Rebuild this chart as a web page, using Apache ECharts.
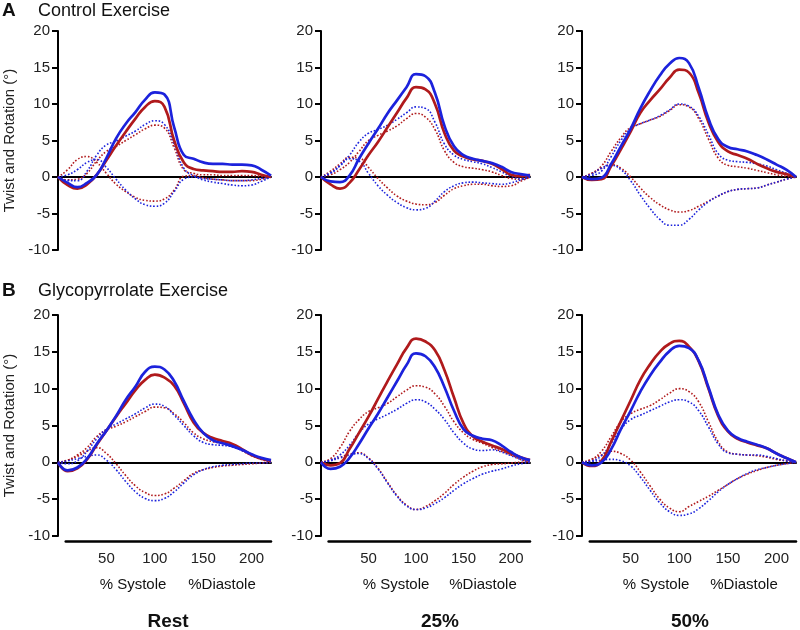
<!DOCTYPE html>
<html>
<head>
<meta charset="utf-8">
<script src="https://cdn.jsdelivr.net/npm/echarts@6/dist/echarts.min.js"></script>
<style>
html,body{margin:0;padding:0;background:#fff;}
#chart{width:800px;height:630px;}
</style>
</head>
<body>
<div id="chart"></div>
<script>
// ---------- DATA ----------
const xPct = [0,10,20,30,40,50,60,70,80,90,100,110,120,130,140,150,160,170,180,190,200,210,220];
const yTicks = [-10,-5,0,5,10,15,20];
const xTickLabels = [50,100,150,200];
const rowTitles = ['Control Exercise','Glycopyrrolate Exercise'];
const rowLetters = ['A','B'];
const colTitles = ['Rest','25%','50%'];
const yAxisTitle = 'Twist and Rotation (°)';
const xTitleSys = '% Systole';
const xTitleDia = '%Diastole';

// Control Exercise - Rest
const ctrlRest_twistRed  = [0,-1.1,-1.6,-1.0,0.3,2.3,4.3,6.2,8.0,9.6,10.4,9.6,5.0,2.0,1.1,0.9,0.8,0.7,0.7,0.8,0.7,0.3,0];
const ctrlRest_twistBlue = [0,-0.8,-1.4,-0.8,0.3,2.6,5.3,7.3,8.9,10.6,11.6,11.3,6.8,3.0,2.5,2.0,1.8,1.8,1.7,1.7,1.6,1.0,0.2];
const ctrlRest_apexRed   = [0,-0.4,-0.3,0.5,2.2,3.5,4.2,5.0,5.8,6.6,7.1,6.7,4.0,1.0,0.5,0.3,0.3,0.2,0.2,0.2,0.2,0.1,0];
const ctrlRest_apexBlue  = [0,-0.5,-0.5,0.8,3.0,4.4,4.9,5.6,6.3,7.2,7.7,7.2,4.5,1.2,0.2,-0.2,-0.3,-0.4,-0.5,-0.5,-0.4,-0.2,0];
const ctrlRest_baseRed   = [0,1.0,2.4,2.8,2.0,0.5,-1.0,-2.0,-2.8,-3.2,-3.3,-3.0,-1.8,0.1,0.2,-0.1,-0.3,-0.4,-0.5,-0.5,-0.5,-0.3,0];
const ctrlRest_baseBlue  = [0,0.3,1.0,2.0,2.4,1.3,-0.3,-1.8,-3.0,-3.8,-4.0,-3.6,-2.0,-0.3,0,-0.4,-0.7,-0.9,-1.1,-1.2,-1.1,-0.6,0];

// Control Exercise - 25%
const ctrl25_twistRed  = [0,-1.0,-1.6,-0.8,1.0,3.0,4.8,6.8,8.8,10.8,12.3,12.0,10.0,6.0,3.6,2.8,2.4,2.2,1.8,1.1,0.3,0.1,0.3];
const ctrl25_twistBlue = [0,-0.6,-0.7,0.2,2.5,4.6,6.6,8.7,10.5,12.3,14.1,13.8,11.5,7.0,4.2,3.0,2.5,2.2,1.9,1.4,0.7,0.4,0.2];
const ctrl25_apexRed   = [0,0.3,1.0,2.0,3.5,5.0,5.7,6.3,7.0,8.0,8.7,8.2,6.5,3.6,2.0,1.4,1.2,1.0,0.7,0.2,-0.2,-0.3,0];
const ctrl25_apexBlue  = [0,0.6,1.6,3.0,4.8,6.0,6.5,7.1,7.9,8.8,9.6,9.4,7.5,4.5,3.0,2.4,2.1,1.8,1.3,0.7,0.1,-0.2,0];
const ctrl25_baseRed   = [0,0.8,1.8,2.7,2.6,1.3,-0.2,-1.5,-2.6,-3.3,-3.7,-3.8,-3.5,-2.5,-1.6,-1.2,-1.0,-1.0,-1.2,-1.3,-1.2,-0.6,0];
const ctrl25_baseBlue  = [0,0.5,1.5,2.5,2.2,0.5,-1.2,-2.5,-3.5,-4.2,-4.5,-4.3,-3.3,-2.0,-1.2,-0.8,-0.7,-0.8,-0.9,-1.0,-0.8,-0.4,0];

// Control Exercise - 50%
const ctrl50_twistRed  = [0,-0.4,-0.3,1.5,3.8,6.2,8.8,10.5,12.0,13.6,14.7,14.3,11.5,7.5,4.8,3.5,3.0,2.5,1.8,1.2,0.7,0.4,0];
const ctrl50_twistBlue = [0,-0.3,-0.1,1.8,4.2,6.6,9.4,11.8,13.9,15.5,16.3,15.6,12.2,8.0,5.2,4.1,3.8,3.5,3.0,2.4,1.7,1.0,0];
const ctrl50_apexRed   = [0,0.5,1.5,3.5,5.4,6.8,7.3,7.8,8.3,9.1,9.9,9.6,8.0,5.2,2.6,1.6,1.4,1.2,0.9,0.6,0.3,0.1,0];
const ctrl50_apexBlue  = [0,0.2,0.8,2.8,5.0,6.6,7.3,7.8,8.4,9.2,10.0,9.7,8.3,5.8,3.2,2.3,2.1,2.0,1.8,1.5,1.0,0.5,0];
const ctrl50_baseRed   = [0,0.5,1.2,1.7,1.2,0,-1.5,-2.8,-3.8,-4.5,-4.8,-4.6,-4.0,-3.3,-2.6,-2.0,-1.7,-1.6,-1.5,-1.1,-0.7,-0.3,0];
const ctrl50_baseBlue  = [0,0.4,1.2,1.6,1.0,-0.5,-2.5,-4.3,-5.8,-6.6,-6.6,-5.8,-4.5,-3.4,-2.6,-2.0,-1.7,-1.6,-1.5,-1.1,-0.7,-0.3,0];

// Glycopyrrolate Exercise - Rest
const glyRest_twistRed  = [0,-1.2,-0.8,0.4,2.4,4.3,6.2,8.0,9.8,11.2,11.9,11.5,10.4,8.0,5.4,4.0,3.3,2.9,2.5,1.8,1.0,0.5,0.2];
const glyRest_twistBlue = [0,-1.1,-0.7,0.5,2.5,4.3,6.3,8.5,10.3,12.3,13.0,12.6,11.0,8.3,5.8,4.0,3.0,2.6,2.2,1.7,1.1,0.6,0.3];
const glyRest_apexRed   = [0,0.3,1.0,2.0,3.5,4.4,4.9,5.5,6.2,6.9,7.5,7.4,6.6,5.4,4.0,3.2,2.8,2.6,2.3,1.6,0.9,0.4,0];
const glyRest_apexBlue  = [0,-0.2,0.2,1.5,3.2,4.5,5.2,5.9,6.6,7.4,7.9,7.6,6.4,5.0,3.6,2.7,2.4,2.3,2.1,1.6,1.0,0.5,0];
const glyRest_baseRed   = [0,0.3,0.8,1.5,2.0,1.2,-0.2,-1.8,-3.2,-4.1,-4.5,-4.3,-3.5,-2.5,-1.5,-1.0,-0.7,-0.5,-0.4,-0.3,-0.2,-0.1,0];
const glyRest_baseBlue  = [0,0.2,0.5,0.8,1.0,0.3,-1.0,-2.6,-4.0,-4.9,-5.2,-4.9,-4.0,-2.8,-1.7,-1.0,-0.6,-0.4,-0.3,-0.2,-0.1,-0.1,0];

// Glycopyrrolate Exercise - 25%
const gly25_twistRed  = [0,-0.4,-0.1,1.8,4.0,6.2,8.6,11.0,13.3,15.5,16.8,16.4,15.2,12.5,8.8,5.3,3.5,2.8,2.3,1.8,1.2,0.7,0.3];
const gly25_twistBlue = [0,-0.9,-0.6,0.6,2.5,4.6,6.6,8.8,11.0,13.2,14.8,14.4,12.9,10.2,7.0,4.5,3.6,3.2,3.0,2.3,1.4,0.7,0.3];
const gly25_apexRed   = [0,0.5,2.0,4.2,5.8,6.9,7.4,8.0,8.9,9.8,10.4,10.2,9.3,7.6,5.5,4.0,3.1,2.6,2.0,1.5,1.0,0.4,0];
const gly25_apexBlue  = [0,0.3,1.0,2.3,4.0,5.2,5.9,6.5,7.2,8.0,8.5,8.2,7.2,5.8,4.0,2.6,1.8,1.6,1.7,1.4,0.9,0.4,0];
const gly25_baseRed   = [0,0.3,0.7,1.1,1.3,0.6,-0.8,-2.7,-4.5,-5.8,-6.4,-6.0,-5.2,-4.2,-3.0,-2.0,-1.2,-0.6,-0.3,-0.2,-0.1,0,0];
const gly25_baseBlue  = [0,0.2,0.6,1.0,1.2,0.5,-0.9,-2.8,-4.6,-5.9,-6.4,-6.2,-5.6,-4.8,-3.8,-2.9,-2.2,-1.6,-1.2,-0.9,-0.5,-0.2,0];

// Glycopyrrolate Exercise - 50%
const gly50_twistRed  = [0,-0.5,0.2,2.8,5.6,8.4,11.2,13.3,15.0,16.1,16.5,15.7,13.7,10.0,6.3,4.2,3.2,2.7,2.3,1.9,1.2,0.6,0];
const gly50_twistBlue = [0,-0.4,0,1.8,4.5,7.0,9.6,11.8,13.6,15.1,15.8,15.5,13.8,10.2,6.5,4.3,3.3,2.8,2.4,1.9,1.2,0.6,0];
const gly50_apexRed   = [0,0.4,1.5,3.5,5.5,6.6,7.2,7.7,8.5,9.4,10.0,9.6,8.2,5.5,2.8,1.4,1.1,1.0,0.9,0.7,0.4,0.2,0];
const gly50_apexBlue  = [0,0.2,0.9,2.6,4.5,5.8,6.4,7.0,7.6,8.2,8.5,8.2,7.0,4.8,2.5,1.3,1.1,1.0,1.0,0.8,0.5,0.2,0];
const gly50_baseRed   = [0,0.4,1.0,1.5,1.2,0.3,-1.3,-3.2,-5.0,-6.2,-6.7,-6.0,-5.3,-4.6,-3.8,-3.0,-2.2,-1.6,-1.1,-0.7,-0.4,-0.2,0];
const gly50_baseBlue  = [0,0.1,0.3,0.4,0.2,-0.5,-2.0,-3.8,-5.5,-6.7,-7.2,-7.0,-6.3,-5.2,-4.0,-3.0,-2.2,-1.5,-1.0,-0.7,-0.4,-0.2,0];

// ---------- LAYOUT ----------
const panels = [
  [ctrlRest_apexRed, ctrlRest_baseRed, ctrlRest_apexBlue, ctrlRest_baseBlue, ctrlRest_twistRed, ctrlRest_twistBlue],
  [ctrl25_apexRed, ctrl25_baseRed, ctrl25_apexBlue, ctrl25_baseBlue, ctrl25_twistRed, ctrl25_twistBlue],
  [ctrl50_apexRed, ctrl50_baseRed, ctrl50_apexBlue, ctrl50_baseBlue, ctrl50_twistRed, ctrl50_twistBlue],
  [glyRest_apexRed, glyRest_baseRed, glyRest_apexBlue, glyRest_baseBlue, glyRest_twistRed, glyRest_twistBlue],
  [gly25_apexRed, gly25_baseRed, gly25_apexBlue, gly25_baseBlue, gly25_twistRed, gly25_twistBlue],
  [gly50_apexRed, gly50_baseRed, gly50_apexBlue, gly50_baseBlue, gly50_twistRed, gly50_twistBlue]
];
const RED = '#b01a1c';
const BLUE = '#1c22dc';
const seriesStyle = [
  {c: RED, dotted: true}, {c: RED, dotted: true},
  {c: BLUE, dotted: true}, {c: BLUE, dotted: true},
  {c: RED, dotted: false}, {c: BLUE, dotted: false}
];
const colLeft = [58, 321, 582];
const colWidth = [213, 209, 214];
const rowTop = [31, 315];
const rowHeight = [219, 221];
const XMAX = 220;
const FONT = "'Liberation Sans', Arial, Helvetica, sans-serif";

const grids = [], xAxes = [], yAxes = [], series = [];
for (let p = 0; p < 6; p++) {
  const r = Math.floor(p / 3), c = p % 3;
  grids.push({left: colLeft[c], top: rowTop[r], width: colWidth[c], height: rowHeight[r]});
  xAxes.push({
    type: 'value', gridIndex: p, min: 0, max: XMAX,
    axisLine: {show: true, onZero: true, lineStyle: {color: '#000', width: 2}},
    axisTick: {show: false}, axisLabel: {show: false}, splitLine: {show: false}
  });
  yAxes.push({
    type: 'value', gridIndex: p, min: yTicks[0], max: yTicks[yTicks.length - 1], interval: 5,
    axisLine: {show: true, onZero: false, lineStyle: {color: '#000', width: 2}},
    axisTick: {show: true, length: 6, lineStyle: {color: '#000', width: 2}},
    axisLabel: {show: true, color: '#222', fontSize: 15, fontFamily: FONT, margin: 8},
    splitLine: {show: false},
    name: c === 0 ? yAxisTitle : '',
    nameLocation: 'middle', nameGap: 41,
    nameTextStyle: {color: '#222', fontSize: 15, fontFamily: FONT}
  });
  panels[p].forEach((arr, k) => {
    const st = seriesStyle[k];
    series.push({
      type: 'line', xAxisIndex: p, yAxisIndex: p,
      data: xPct.map((x, i) => [x, arr[i]]),
      smooth: 0.5, showSymbol: false, symbol: 'none', silent: true,
      lineStyle: st.dotted ? {color: st.c, width: 1.6, type: [1.6, 1.8]} : {color: st.c, width: 2.7},
      z: st.dotted ? 2 : 3
    });
  });
}
// bottom x axes (separate line under bottom row)
const XBMIN = 8;
for (let c = 0; c < 3; c++) {
  const gi = grids.length;
  const left = colLeft[c] + XBMIN * colWidth[c] / XMAX;
  grids.push({left: left, top: 539, width: colLeft[c] + colWidth[c] - left, height: 2});
  xAxes.push({
    type: 'value', gridIndex: gi, min: XBMIN, max: XMAX, position: 'bottom',
    axisLine: {show: true, onZero: false, lineStyle: {color: '#000', width: 2.5}},
    axisTick: {show: false},
    axisLabel: {show: true, customValues: xTickLabels, color: '#222', fontSize: 15, fontFamily: FONT, margin: 10},
    splitLine: {show: false}
  });
  yAxes.push({type: 'value', gridIndex: gi, min: 0, max: 1, show: false});
}

const graphics = [];
const textEl = (text, x, y, size, bold, align) => ({
  type: 'text', x: x, y: y, silent: true,
  style: {text: text, font: (bold ? 'bold ' : '') + size + 'px ' + FONT, fill: '#111',
          textAlign: align, textVerticalAlign: 'middle', align: align, verticalAlign: 'middle'}
});
graphics.push(textEl(rowLetters[0], 2, 11, 19, true, 'left'));
graphics.push(textEl(rowTitles[0], 38, 11, 18, false, 'left'));
graphics.push(textEl(rowLetters[1], 2, 291, 19, true, 'left'));
graphics.push(textEl(rowTitles[1], 38, 291, 18, false, 'left'));
const sysX = [133, 396, 656], diaX = [222, 483, 744], colTitleX = [168, 440, 690];
for (let c = 0; c < 3; c++) {
  graphics.push(textEl(xTitleSys, sysX[c], 585, 15, false, 'center'));
  graphics.push(textEl(xTitleDia, diaX[c], 585, 15, false, 'center'));
  graphics.push(textEl(colTitles[c], colTitleX[c], 622, 19, true, 'center'));
}

const chart = echarts.init(document.getElementById('chart'), null, {renderer: 'canvas'});
chart.setOption({
  backgroundColor: '#fff',
  animation: false,
  grid: grids, xAxis: xAxes, yAxis: yAxes, series: series,
  graphic: graphics
});
</script>
</body>
</html>
